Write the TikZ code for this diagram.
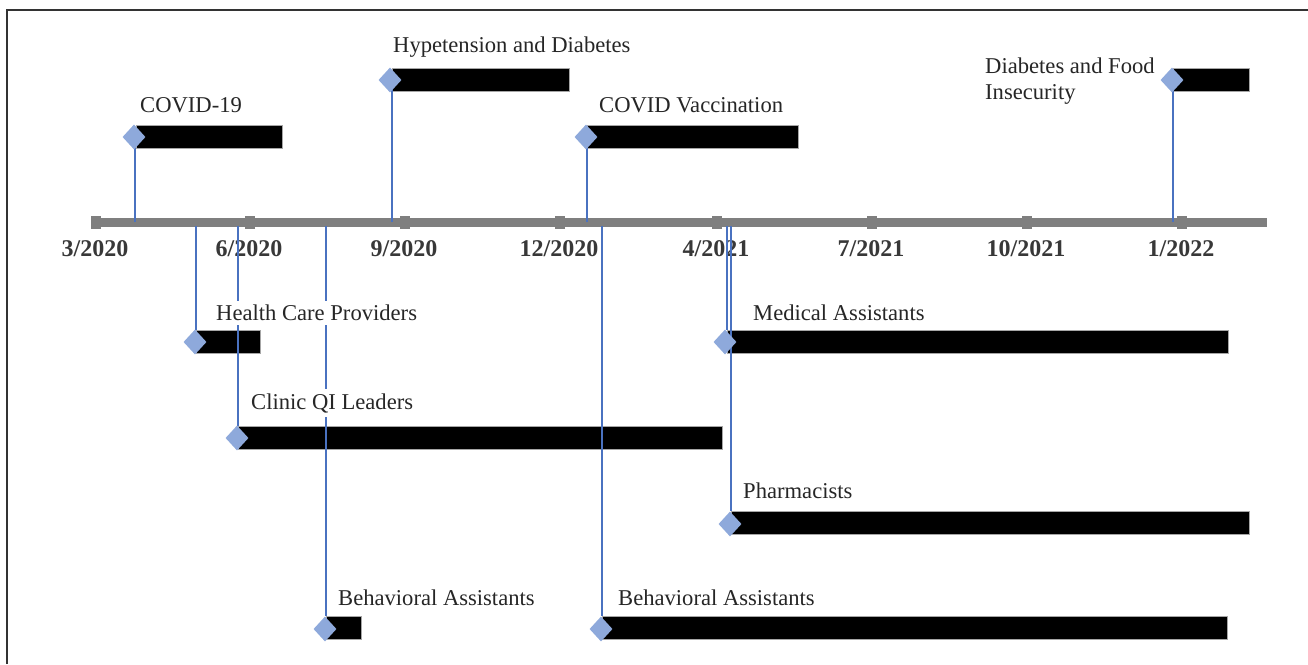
\documentclass[tikz,border=0pt]{standalone}
\usepackage{fontspec}
\setmainfont{Liberation Serif}
\usetikzlibrary{shapes.geometric,calc}
\definecolor{axisgray}{HTML}{7F7F7F}
\definecolor{conncol}{HTML}{4A72C0}
\definecolor{diacol}{HTML}{8EA9DB}
\tikzset{
  conn/.style={draw=conncol, line width=1.4pt},
  marker/.style={diamond, fill=diacol, draw=none, minimum width=23pt, minimum height=25pt, inner sep=0pt},
  barbox/.style={rectangle, fill=black, draw=gray!70, line width=0.6pt, anchor=north west, minimum height=23pt, inner sep=0pt, outer sep=0pt},
  tickbox/.style={rectangle, fill=axisgray, minimum width=10pt, minimum height=13pt, inner sep=0pt},
  datelbl/.style={font=\fontsize{24}{27}\selectfont\bfseries, text=black!78, inner sep=0pt},
  evlbl/.style={font=\fontsize{22.6}{26}\selectfont, text=black!85, anchor=west, fill=white, inner xsep=2pt, inner ysep=4pt, align=left},
}
\begin{document}
\begin{tikzpicture}[x=1pt, y=-1pt]
\useasboundingbox (0,0) rectangle (1308,664);
% frame
\draw[line width=1.4pt, black!80] (7,664) -- (7,10) -- (1308,10);
% axis
\coordinate (axL) at (91,222);
\coordinate (axR) at (1267,222);
\draw[axisgray, line width=9pt] (axL) -- (axR);
\foreach \x/\n/\t in {96/t1/3\slash 2020, 250/t2/6\slash 2020, 405/t3/9\slash 2020, 560/t4/12\slash 2020, 717/t5/4\slash 2021, 872/t6/7\slash 2021, 1027/t7/10\slash 2021, 1182/t8/1\slash 2022}{
  \node[tickbox] (\n) at (\x,222) {};
  \node[datelbl] (\n l) at (\x-1,249) {\t};
}
% axis anchor points
\coordinate (a1) at (135,222);
\coordinate (a2) at (392,222);
\coordinate (a3) at (587,222);
\coordinate (a4) at (1173,222);
\coordinate (a5) at (196,226);
\coordinate (a6) at (238,226);
\coordinate (a7) at (326,226);
\coordinate (a8) at (602,226);
\coordinate (a9) at (727,226);
\coordinate (a10) at (731,226);
% bars
\node[barbox, minimum width=146pt] (b1) at (136,125) {};
\node[barbox, minimum width=177pt] (b2) at (392,68) {};
\node[barbox, minimum width=211pt] (b3) at (587,125) {};
\node[barbox, minimum width=76pt] (b4) at (1173,68) {};
\node[barbox, minimum width=64pt] (b5) at (196,330) {};
\node[barbox, minimum width=484pt] (b6) at (238,426) {};
\node[barbox, minimum width=35pt] (b7) at (326,616) {};
\node[barbox, minimum width=625pt] (b8) at (602,616) {};
\node[barbox, minimum width=501pt] (b9) at (727,330) {};
\node[barbox, minimum width=518pt] (b10) at (731,511) {};
% diamonds
\coordinate (p1) at (135,137);
\coordinate (p2) at (392,80);
\coordinate (p3) at (587,137);
\coordinate (p4) at (1173,80);
\coordinate (p5) at (196,342);
\coordinate (p6) at (238,438);
\coordinate (p7) at (326,629);
\coordinate (p8) at (602,629);
\coordinate (p9) at (727,342);
\coordinate (p10) at (731,524);
% connectors
\foreach \i in {1,2,3,4}{ \draw[conn] (a\i) -- (p\i); }
\foreach \i in {5,...,10}{ \draw[conn] (a\i) -- (b\i.north west); }
\foreach \i/\dx in {1/-1,2/-2,3/-1,4/-1,5/-1,6/-1,7/-1,8/-1,9/-2,10/-1}{
  \node[marker] (d\i) at ($(p\i)+(\dx,0)$) {};
}
% labels
\node[evlbl] (l1) at (138,105) {COVID-19};
\node[evlbl] (l2) at (391,47) {Hypetension and Diabetes};
\node[evlbl] (l3) at (597,105) {COVID Vaccination};
\node[evlbl] (l4) at (983,81) {Diabetes and Food\\Insecurity};
\node[evlbl] (l5) at (214,313) {Health Care Providers};
\node[evlbl] (l6) at (249,403) {Clinic QI Leaders};
\node[evlbl] (l7) at (336,598) {Behavioral Assistants};
\node[evlbl] (l8) at (616,598) {Behavioral Assistants};
\node[evlbl] (l9) at (751,313) {Medical Assistants};
\node[evlbl] (l10) at (741,491) {Pharmacists};
\end{tikzpicture}
\end{document}
